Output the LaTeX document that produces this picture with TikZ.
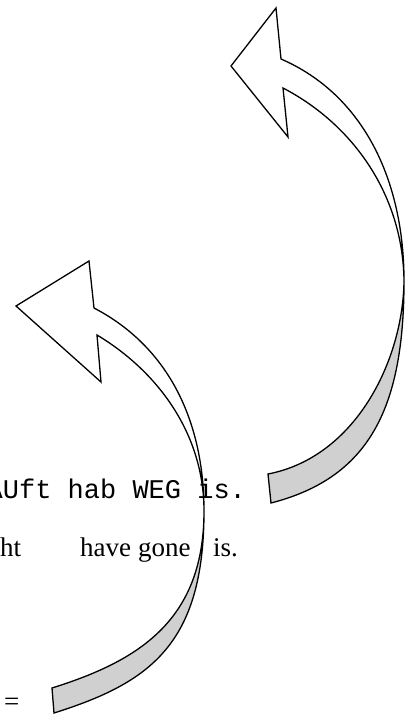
\documentclass[tikz,border=0pt]{standalone}
\usepackage{fontspec}
\setmainfont{Liberation Serif}
\setmonofont{Liberation Mono}
\definecolor{backgray}{RGB}{208,208,208}
\begin{document}
\begin{tikzpicture}[x=1pt,y=-1pt,
  arrowline/.style={draw=black,line width=1.3pt,line join=miter},
  front/.style={arrowline,fill=white},
  back/.style={arrowline,fill=backgray},
  monotext/.style={font=\ttfamily\fontsize{27}{30}\selectfont,inner sep=0pt,anchor=base west},
  seriftext/.style={font=\fontsize{27}{30}\selectfont,inner sep=0pt,anchor=base west}]
\useasboundingbox (0,0) rectangle (413,715);
\clip (0,0) rectangle (413,715);
% text
\node[monotext] (w1) at (-13.5,498) {AUft};
\node[monotext] (w2) at (67.5,498) {hab};
\node[monotext] (w3) at (132.3,498) {WEG};
\node[monotext] (w4) at (197.1,498) {is.};
\node[seriftext] (ht) at (0,556) {ht};
\node[seriftext] (have) at (80,556) {have};
\node[seriftext] (gone) at (138,556) {gone};
\node[seriftext] (is) at (213,556) {is.};
\node[seriftext] (eq) at (4,710) {=};
% upper arrow
\path[front] (281,59) -- (276,8) -- (231,66) -- (288,137) -- (283,88)
  .. controls (354,125) and (403,196) .. (404,281)
  .. controls (404,181) and (364,95) .. (281,59) -- cycle;
\path[back] (404,281) .. controls (404,410) and (368,478) .. (271,503)
  -- (268,474) .. controls (356,457) and (403,360) .. (404,281) -- cycle;
% lower arrow
\path[front] (94,308) -- (89,261) -- (16,306) -- (101,382) -- (97,335)
  .. controls (157,371) and (204,433) .. (204,511)
  .. controls (204,419) and (167,346) .. (94,308) -- cycle;
\path[back] (204,511) .. controls (204,645) and (149,683) .. (54,713)
  -- (52,688) .. controls (138,661) and (204,621) .. (204,511) -- cycle;
\end{tikzpicture}
\end{document}
